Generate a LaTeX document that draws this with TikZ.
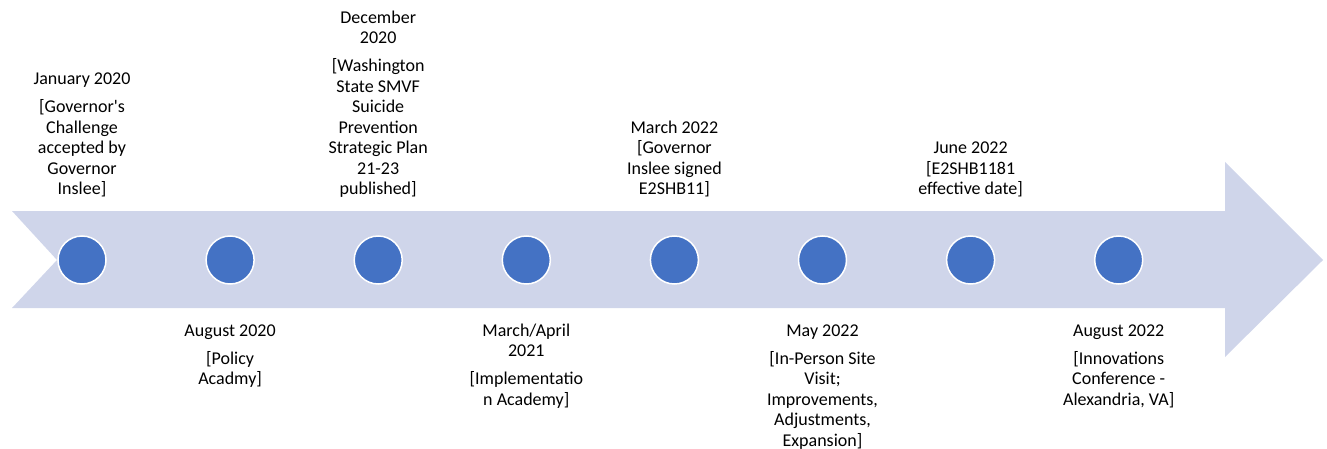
\documentclass[tikz,border=0pt]{standalone}
\usepackage{fontspec}
\setmainfont{Carlito}
\usetikzlibrary{positioning}
\definecolor{bandblue}{HTML}{CFD5EA}
\definecolor{dotblue}{HTML}{4472C4}

\begin{document}
\begin{tikzpicture}[x=1pt, y=-1pt, node distance=148.1pt,
		dot/.style={on grid, circle, draw=white, line width=1.5pt, fill=dotblue, minimum size=48pt, inner sep=0pt},
		evt/.style={align=center, inner sep=0pt, font=\fontsize{18}{20.5}\selectfont}]
		\useasboundingbox (0,0) rectangle (1327,449);
		\fill[bandblue] (12,211) -- (1225,211) -- (1225,162) -- (1323,260) -- (1225,357) -- (1225,308) -- (12,308) -- (57,260) -- cycle;
		\node[dot] (D1) at (82,260) {}; \node[dot] (D2) [right=of D1] {}; \node[dot] (D3) [right=of D2] {}; \node[dot] (D4) [right=of D3] {};
		\node[dot] (D5) [right=of D4] {}; \node[dot] (D6) [right=of D5] {}; \node[dot] (D7) [right=of D6] {}; \node[dot] (D8) [right=of D7] {};
		\node[evt] (T1) [above=59pt of D1.center] {January 2020\\[7.5pt]{[}Governor\textquotesingle s\\Challenge\\accepted by\\Governor\\Inslee]\strut};
		\node[evt] (B2) [below=61.6pt of D2.center] {\strut August 2020\\[7.5pt]{[}Policy\\Acadmy]};
		\node[evt] (T3) [above=59pt of D3.center] {December\\2020\\[7.5pt]{[}Washington\\State SMVF\\Suicide\\Prevention\\Strategic Plan\\21-23\\published]\strut};
		\node[evt] (B4) [below=61.6pt of D4.center] {\strut March/April\\2021\\[7.5pt]{[}Implementatio\\n Academy]};
		\node[evt] (T5) [above=59pt of D5.center] {March 2022\\{[}Governor\\Inslee signed\\E2SHB11]\strut};
		\node[evt] (B6) [below=61.6pt of D6.center] {\strut May 2022\\[7.5pt]{[}In-Person Site\\Visit;\\Improvements,\\Adjustments,\\Expansion]};
		\node[evt] (T7) [above=59pt of D7.center] {June 2022\\{[}E2SHB1181\\effective date]\strut};
		\node[evt] (B8) [below=61.6pt of D8.center] {\strut August 2022\\[7.5pt]{[}Innovations\\Conference -\\Alexandria, VA]};
	\end{tikzpicture}
\end{document}
